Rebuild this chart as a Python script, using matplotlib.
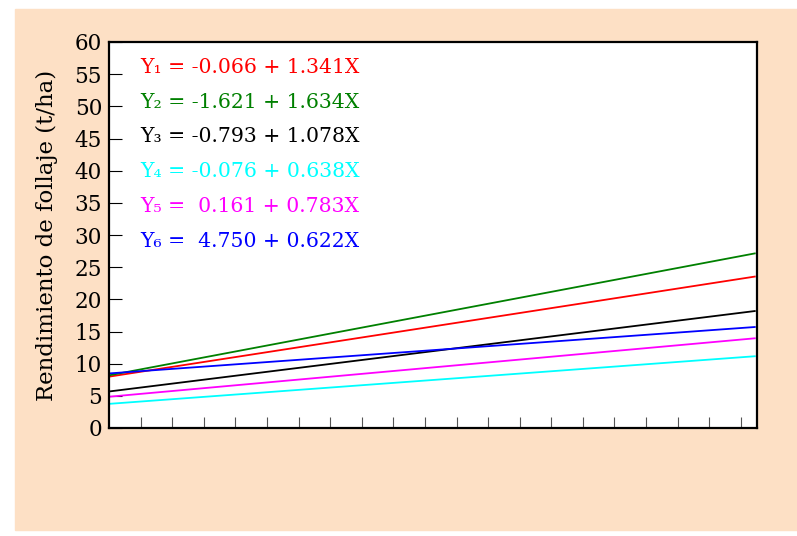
import numpy as np
import matplotlib.pyplot as plt
from matplotlib.patches import Rectangle

# ecuaciones de regresion (intercepto, pendiente)
labels = ["Y₁ = -0.066 + 1.341X", "Y₂ = -1.621 + 1.634X", "Y₃ = -0.793 + 1.078X",
          "Y₄ = -0.076 + 0.638X", "Y₅ =  0.161 + 0.783X", "Y₆ =  4.750 + 0.622X"]
intercepts = [-0.066, -1.621, -0.793, -0.076, 0.161, 4.750]
slopes = [1.341, 1.634, 1.078, 0.638, 0.783, 0.622]
colors = ["red", "green", "black", "cyan", "magenta", "blue"]
x_range = [6.0, 17.6]

plt.rcParams['font.family'] = ['DejaVu Serif']

fig = plt.figure(figsize=(7.97, 5.36), dpi=100)
fig.patches.append(Rectangle((15 / 797, 6 / 536), 782 / 797, 521 / 536,
                             transform=fig.transFigure, color="#fde0c5", zorder=-10))
ax = fig.add_axes([109 / 797, 108 / 536, 648 / 797, 386 / 536])
ax.set_zorder(1)

x = np.array(x_range)
for a, b, c in zip(intercepts, slopes, colors):
    ax.plot(x, a + b * x, color=c, lw=1.3)

for i, (lab, c) in enumerate(zip(labels, colors)):
    ax.text(0.048, 0.935 - i * 0.0905, lab, color=c, fontsize=14.7,
            transform=ax.transAxes, va="center")

ax.set_xlim(6.0, 17.64)
ax.set_ylim(0, 60)
ax.set_yticks(range(0, 61, 5))
ax.set_xticks([6.0 + 0.5675 * k for k in range(1, 21)])
ax.set_xticklabels([])
ax.tick_params(axis="y", direction="in", length=9, labelsize=15.5, pad=5)
ax.tick_params(axis="x", direction="in", length=8, color="#555555")
for s in ax.spines.values():
    s.set_linewidth(1.6)
ax.set_ylabel("Rendimiento de follaje (t/ha)", fontsize=16.5, labelpad=12)

fig.savefig("out.png", dpi=100)
